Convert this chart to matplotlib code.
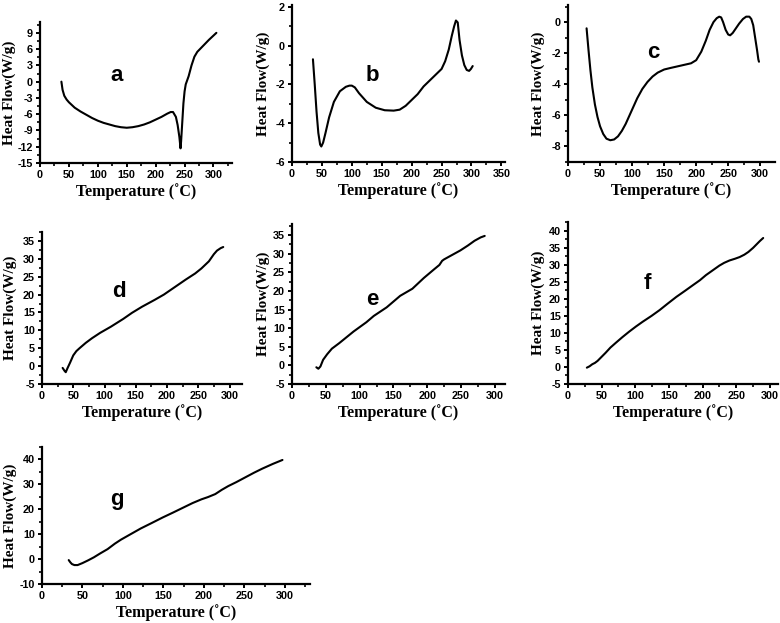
import matplotlib
matplotlib.use("Agg")
import matplotlib.pyplot as plt
from matplotlib.ticker import MultipleLocator
import numpy as np

plt.rcParams["axes.unicode_minus"] = False

# ---- data ----
a_T = [37, 39, 42, 46, 50, 60, 70, 80, 90, 100, 110, 120, 130, 140, 150, 160, 170, 180, 190, 200,
       210, 220, 226, 230, 235, 238, 241, 243, 244, 246, 248, 250, 252, 257, 262, 267, 272, 282, 292, 300, 305]
a_v = [0.0, -1.5, -2.6, -3.3, -3.8, -4.8, -5.5, -6.1, -6.7, -7.2, -7.6, -7.9, -8.2, -8.4, -8.5, -8.4, -8.2, -7.9,
       -7.5, -7.0, -6.5, -5.9, -5.6, -5.6, -6.5, -8.0, -10.2, -12.3, -11.0, -7.5, -4.0, -1.8, -0.5, 1.0, 3.0, 4.6,
       5.5, 6.6, 7.7, 8.5, 9.0]

b_T = [35, 38, 41, 44, 47, 49, 52, 56, 62, 70, 80, 90, 96, 100, 105, 112, 125, 140, 155, 170, 180, 190, 200,
       210, 220, 230, 240, 250, 256, 262, 267, 271, 274, 277, 280, 284, 288, 292, 296, 299, 302]
b_v = [-0.7, -2.0, -3.4, -4.5, -5.1, -5.2, -5.0, -4.5, -3.7, -2.9, -2.35, -2.12, -2.06, -2.06, -2.15, -2.45, -2.9,
       -3.2, -3.33, -3.35, -3.3, -3.1, -2.8, -2.5, -2.1, -1.8, -1.5, -1.2, -0.8, -0.2, 0.5, 1.0, 1.3, 1.2, 0.3,
       -0.5, -1.0, -1.25, -1.3, -1.2, -1.05]

c_T = [29, 32, 35, 38, 42, 46, 50, 55, 60, 66, 72, 78, 84, 90, 96, 102, 108, 116, 124, 132, 140, 150, 160,
       176, 192, 200, 208, 215, 221, 227, 232, 236, 239, 242, 246, 250, 253, 257, 262, 267, 273, 278, 283, 286,
       289, 292, 295, 297, 298]
c_v = [-0.4, -1.8, -3.1, -4.2, -5.3, -6.1, -6.7, -7.2, -7.5, -7.6, -7.55, -7.35, -7.0, -6.55, -6.0, -5.45, -4.9,
       -4.3, -3.85, -3.5, -3.25, -3.05, -2.95, -2.8, -2.65, -2.45, -1.9, -1.2, -0.5, 0.0, 0.25, 0.35, 0.3, 0.0,
       -0.5, -0.8, -0.85, -0.7, -0.4, -0.1, 0.2, 0.35, 0.35, 0.2, -0.2, -1.0, -1.8, -2.4, -2.55]

d_T = [33, 36, 38, 41, 45, 50, 55, 60, 70, 80, 93, 110, 130, 144, 160, 180, 195, 210, 230, 245, 255, 267,
       275, 280, 286, 290]
d_v = [-0.5, -1.3, -1.7, -0.5, 1.0, 3.0, 4.2, 5.0, 6.5, 7.8, 9.3, 11.0, 13.2, 14.9, 16.6, 18.5, 20.0, 21.8,
       24.2, 25.9, 27.3, 29.3, 31.3, 32.3, 33.0, 33.3]

e_T = [36, 39, 42, 46, 52, 59, 70, 91, 110, 121, 140, 160, 178, 195, 210, 218, 222, 225, 235, 249, 260, 270,
       279, 285]
e_v = [-0.5, -0.9, -0.3, 1.5, 3.0, 4.5, 6.0, 9.1, 11.6, 13.3, 15.6, 18.7, 20.6, 23.5, 25.8, 27.0, 28.1, 28.5,
       29.5, 30.9, 32.2, 33.5, 34.4, 34.8]

f_T = [28, 32, 36, 40, 44, 50, 56, 63, 71, 81, 91, 101, 111, 124, 136, 148, 161, 174, 186, 196, 205, 215,
       225, 232, 240, 248, 255, 262, 268, 275, 280, 285, 290]
f_v = [-0.2, 0.2, 0.8, 1.2, 1.8, 3.0, 4.2, 5.7, 7.1, 8.8, 10.4, 11.9, 13.3, 15.0, 16.7, 18.6, 20.6, 22.4, 24.1,
       25.5, 27.0, 28.4, 29.8, 30.6, 31.3, 31.8, 32.3, 33.0, 33.8, 35.0, 36.0, 37.0, 37.9]

g_T = [33, 35, 37, 40, 44, 50, 57, 64, 72, 81, 90, 97.5, 110, 122, 135, 149, 162, 174, 186, 197, 205, 214,
       222, 230, 240, 251, 262, 272, 285, 297]
g_v = [-0.4, -1.3, -2.0, -2.4, -2.4, -1.6, -0.5, 0.7, 2.3, 4.0, 6.2, 7.8, 10.1, 12.3, 14.4, 16.7, 18.7, 20.6,
       22.5, 24.0, 24.9, 26.1, 27.8, 29.3, 30.9, 32.8, 34.7, 36.3, 38.2, 39.8]

panels = [
    # letter, T, v, rect(px: left, right, top, bottom), xlim, ylim, ymaj, ymin, xmaxtick, letter pos, ylabel x px
    ("a", a_T, a_v, (40, 232, 22, 163), (0, 332), (-15, 11), 3, 1.5, 300, (0.40, 0.62), 9),
    ("b", b_T, b_v, (292, 505, 5, 162), (0, 356), (-6, 2.1), 2, 1, 350, (0.375, 0.55), 263),
    ("c", c_T, c_v, (568, 775, 5, 162), (0, 323), (-9, 1.1), 2, 1, 300, (0.41, 0.70), 538),
    ("d", d_T, d_v, (42, 242, 232, 384), (0, 320), (-5, 37.5), 5, 2.5, 300, (0.385, 0.61), 10),
    ("e", e_T, e_v, (292, 505, 224, 384), (0, 315), (-5, 38), 5, 2.5, 300, (0.375, 0.53), 263),
    ("f", f_T, f_v, (568, 778, 222, 384), (0, 312), (-5, 42.6), 5, 2.5, 300, (0.38, 0.62), 538),
    ("g", g_T, g_v, (42, 310, 447, 584), (0, 331), (-10, 45), 10, 5, 300, (0.28, 0.62), 10),
]

W, H = 780, 623
fig = plt.figure(figsize=(W / 100, H / 100), dpi=100)

serif = ["Liberation Serif", "DejaVu Serif"]
sans = ["Liberation Sans", "DejaVu Sans"]

for letter, T, v, (l, r, t, b), xl, yl, ymaj, ymin, xmax, lpos, ylx in panels:
    ax = fig.add_axes([l / W, 1 - b / H, (r - l) / W, (b - t) / H])
    ax.plot(T, v, color="black", lw=1.5, solid_capstyle="round", solid_joinstyle="round")
    ax.set_xlim(*xl)
    ax.set_ylim(*yl)
    ax.spines["top"].set_visible(False)
    ax.spines["right"].set_visible(False)
    for s in ("left", "bottom"):
        ax.spines[s].set_linewidth(1.6)
    ax.set_xticks(np.arange(0, xmax + 1, 50))
    ax.xaxis.set_minor_locator(MultipleLocator(25))
    yt = np.arange(yl[0], yl[1] + 1e-9, ymaj)
    if letter == "c":
        yt = np.arange(-8, 0.5, 2)
    ax.set_yticks(yt)
    ax.yaxis.set_minor_locator(MultipleLocator(ymin))
    ax.tick_params(which="major", direction="out", length=3, width=1.4, pad=2)
    ax.tick_params(which="minor", direction="out", length=2, width=1.2)
    for lab in ax.get_xticklabels() + ax.get_yticklabels():
        lab.set_fontfamily(sans)
        lab.set_fontweight("bold")
        lab.set_fontsize(7.8)
    ax.set_xlabel("Temperature (\u02daC)", fontfamily=serif, fontweight="bold", fontsize=11.5, labelpad=2)
    ax.set_ylabel("Heat Flow(W/g)", fontfamily=serif, fontweight="bold", fontsize=11)
    ax.yaxis.set_label_coords((ylx - l) / (r - l), 0.5)
    ax.yaxis.label.set_va("center")
    ax.text(lpos[0], lpos[1], letter, transform=ax.transAxes, fontfamily=sans, fontweight="bold",
            fontsize=16, ha="center", va="center")

fig.savefig("out.png", dpi=100)
